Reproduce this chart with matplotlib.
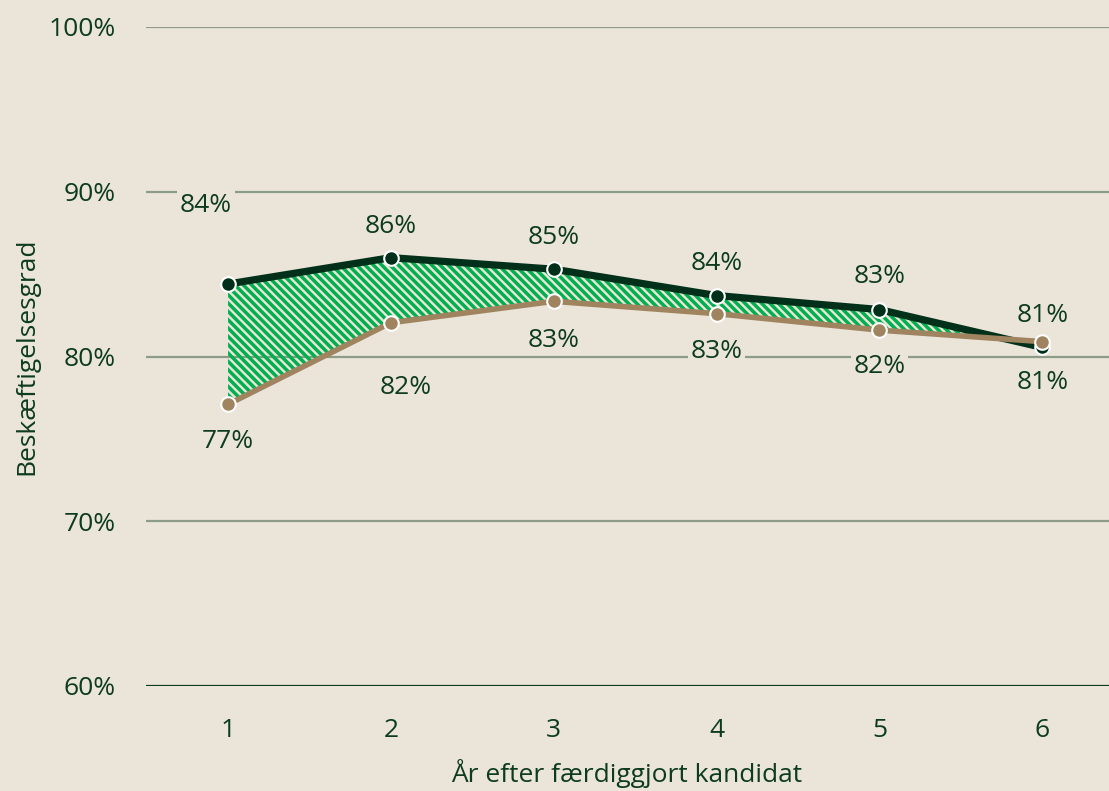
import numpy as np
import matplotlib
matplotlib.use('Agg')
import matplotlib.pyplot as plt

# data
years = [1, 2, 3, 4, 5, 6]
dark_vals = [84.4, 86.0, 85.3, 83.7, 82.85, 80.55]
tan_vals = [77.1, 82.05, 83.35, 82.6, 81.6, 80.9]
dark_labels = ['84%', '86%', '85%', '84%', '83%', '81%']
tan_labels = ['77%', '82%', '83%', '83%', '82%', '81%']
yticks = [60, 70, 80, 90, 100]

# label offsets in pixels (layout only)
dark_off = [(-22, 79), (0, 31), (0, 32), (0, 32), (0, 33), (0, -35)]
tan_off = [(0, -37), (15, -65), (0, -39), (0, -38), (0, -36), (0, 26)]

bg = '#ebe4d9'
txt = '#0d3b1e'
dark = '#00301a'
tan = '#a0845f'
hatch_green = '#00b04f'
grid_col = '#8c9c86'
fs = 19

plt.rcParams['font.family'] = ['Open Sans', 'DejaVu Sans']
plt.rcParams['hatch.linewidth'] = 2.5
plt.rcParams['hatch.color'] = hatch_green

fig = plt.figure(figsize=(11.09, 7.91), dpi=100, facecolor=bg)
ax = fig.add_axes([146/1109, 1 - 686/791, 1 - 146/1109, (686 - 27)/791])
ax.set_facecolor(bg)

ax.set_ylim(60, 100)
ax.set_xlim(0.496, 6.41)

for y in yticks:
    ax.axhline(y, color=txt if y == 60 else grid_col, lw=1.6, zorder=1)

ax.fill_between(years, tan_vals, dark_vals, facecolor='none', edgecolor=hatch_green,
                hatch='\\\\\\\\', linewidth=0, zorder=2)

ax.plot(years, dark_vals, color=dark, lw=5.2, marker='o', ms=10.5, mfc=dark,
        mec='white', mew=1.5, zorder=4, clip_on=False)
ax.plot(years, tan_vals, color=tan, lw=4, marker='o', ms=10.5, mfc=tan,
        mec='white', mew=1.5, zorder=5, clip_on=False)

box = dict(boxstyle='square,pad=0.1', fc=bg, ec='none')
for x, v, lab, off in zip(years, dark_vals, dark_labels, dark_off):
    ax.annotate(lab, (x, v), xytext=off, textcoords='offset pixels', ha='center',
                va='center', fontsize=fs, color=txt, bbox=box, zorder=6)
for x, v, lab, off in zip(years, tan_vals, tan_labels, tan_off):
    ax.annotate(lab, (x, v), xytext=off, textcoords='offset pixels', ha='center',
                va='center', fontsize=fs, color=txt, bbox=box, zorder=6)

ax.set_xticks(years)
ax.set_xticklabels([str(y) for y in years])
ax.set_yticks(yticks)
ax.set_yticklabels([f'{y}%' for y in yticks])
ax.tick_params(length=0, labelsize=fs, colors=txt)
ax.tick_params(axis='x', pad=23)
ax.tick_params(axis='y', pad=22)
for s in ax.spines.values():
    s.set_visible(False)

fig.text(627/1109, 1 - 774/791, 'År efter færdiggjort kandidat', fontsize=fs,
         color=txt, ha='center', va='center')
fig.text(27/1109, 1 - 356/791, 'Beskæftigelsesgrad', fontsize=fs, color=txt,
         ha='center', va='center', rotation=90)

fig.savefig('out.png', dpi=100, facecolor=bg)
